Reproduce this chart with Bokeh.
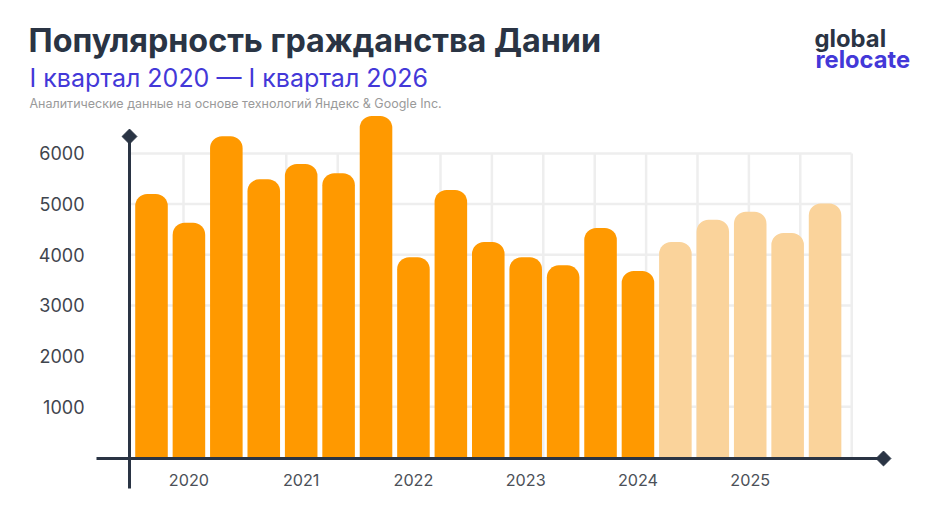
import math
from bokeh.plotting import figure
from bokeh.models import Label, Range1d, FixedTicker
from bokeh.embed import file_html
from bokeh.resources import INLINE

values_solid = [5200, 4630, 6340, 5490, 5790, 5610, 6740, 3950, 5280, 4250, 3950, 3790, 4530, 3680]
values_light = [4250, 4690, 4850, 4430, 5010]
year_labels = ["2020", "2021", "2022", "2023", "2024", "2025"]
year_positions = [1, 4, 7, 10, 13, 16]
y_ticks = [1000, 2000, 3000, 4000, 5000, 6000]
title = "Популярность гражданства Дании"
subtitle = "I квартал 2020 — I квартал 2026"
source = "Аналитические данные на основе технологий Яндекс & Google Inc."

NAVY = "#2a3444"; BLUE = "#4338d8"; ORANGE = "#ff9900"; LIGHT = "#fad39b"; GRID = "#eeeeee"
FONT = "Inter"

W, H = 919, 506
X0, DX = 151.0, 37.42      # page x of bar 0, bar spacing
Y0, DY = 456.8, 50.64 / 1000

def dx(px): return (px - X0) / DX
def dy(py): return (Y0 - py) / DY

p = figure(width=W, height=H, output_backend="svg", toolbar_location=None,
           x_range=Range1d(dx(0), dx(W)), y_range=Range1d(dy(H), dy(0)),
           min_border_left=0, min_border_right=0, min_border_top=0, min_border_bottom=0)
p.outline_line_color = None
p.grid.visible = False
p.background_fill_color = "white"

# grid
gx = [183 + 51.4 * k for k in range(14)]
p.segment([dx(x) for x in gx], [0] * 14, [dx(x) for x in gx], [6000] * 14, line_color=GRID, line_width=2.5)
p.segment([dx(129)] * 6, y_ticks, [dx(851)] * 6, y_ticks, line_color=GRID, line_width=2.5)

# bars
xs = list(range(len(values_solid)))
p.vbar(x=xs, top=values_solid, bottom=0, width=0.87, fill_color=ORANGE, line_color=None,
       border_radius=(12, 12, 0, 0))
xl = [len(values_solid) + i for i in range(len(values_light))]
p.vbar(x=xl, top=values_light, bottom=0, width=0.87, fill_color=LIGHT, line_color=None,
       border_radius=(12, 12, 0, 0))

# axis lines with diamond ends
p.segment([dx(129)], [dy(135)], [dx(129)], [dy(488)], line_color=NAVY, line_width=3)
p.segment([dx(96)], [dy(458)], [dx(883)], [dy(458)], line_color=NAVY, line_width=3)
p.scatter([dx(129), dx(883)], [dy(136), dy(458)], marker="square", angle=math.pi / 4, size=10.5,
          fill_color=NAVY, line_color=NAVY)

# y axis
ay = p.yaxis[0]
ay.fixed_location = dx(97)
ay.ticker = FixedTicker(ticks=y_ticks)
ay.axis_line_color = None
ay.major_tick_line_color = None
ay.minor_tick_line_color = None
ay.major_tick_in = 0
ay.major_tick_out = 0
ay.major_label_standoff = 13
ay.major_label_text_font = FONT
ay.major_label_text_font_size = "18px"
ay.major_label_text_color = "#3f454e"

# x axis
ax = p.xaxis[0]
ax.fixed_location = 0
ax.ticker = FixedTicker(ticks=year_positions)
ax.major_label_overrides = dict(zip(year_positions, year_labels))
ax.axis_line_color = None
ax.major_tick_line_color = None
ax.minor_tick_line_color = None
ax.major_tick_in = 0
ax.major_tick_out = 0
ax.major_label_standoff = 17
ax.major_label_text_font = FONT
ax.major_label_text_font_size = "16.2px"
ax.major_label_text_color = "#4b5058"

def lab(txt, x, y, size, color, style="normal"):
    p.add_layout(Label(x=x, y=y, x_units="canvas", y_units="canvas", text=txt,
                       text_font=FONT, text_font_size=size, text_color=color,
                       text_font_style=style, text_baseline="alphabetic"))

lab(title, 28, 40, "32.3px", NAVY, "bold")
lab(subtitle, 29, 77, "25px", BLUE)
lab(source, 29, 103, "12.5px", "#9a9a9a")
lab("global", 814, 38, "23.8px", NAVY, "bold")
lab("relocate", 815, 59, "23.7px", BLUE, "bold")

open("out.html", "w").write(file_html(p, INLINE))
